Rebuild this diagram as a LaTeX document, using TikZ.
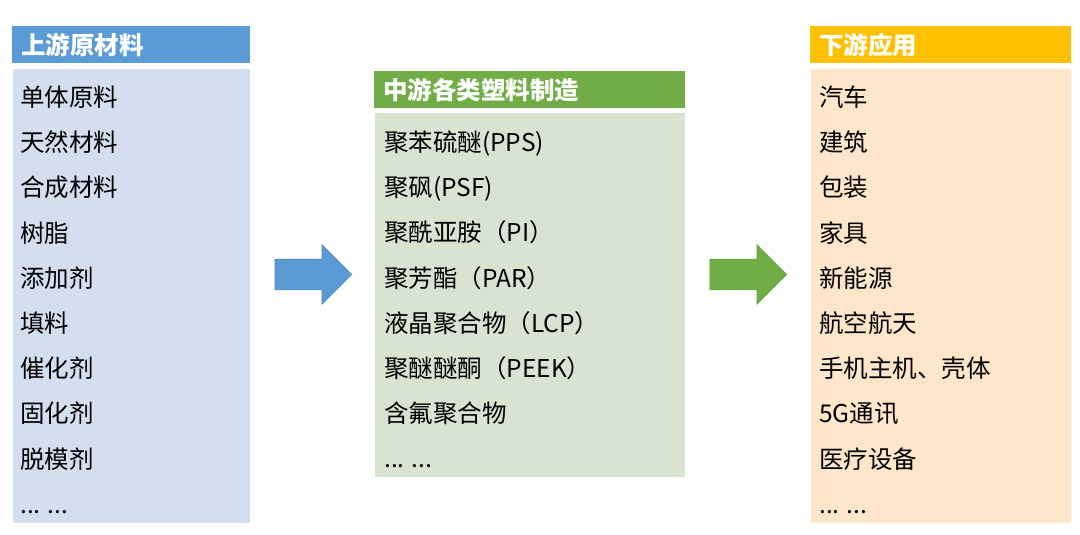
\documentclass[tikz,border=0pt]{standalone}
\usepackage{fontspec}
\setmainfont{Noto Sans CJK SC}
\usetikzlibrary{shapes.arrows}
\definecolor{upblue}{HTML}{5B9BD5}
\definecolor{upbody}{HTML}{D3DEEF}
\definecolor{midgreen}{HTML}{70AD47}
\definecolor{midbody}{HTML}{D8E4D0}
\definecolor{downgold}{HTML}{FFC000}
\definecolor{downbody}{HTML}{FEE6CB}
\begin{document}
\begin{tikzpicture}[x=1pt, y=-1pt,
    every node/.style={inner sep=0pt, font=\fontsize{24.5}{29}\selectfont},
    head/.style={anchor=north west, minimum height=37pt, text=white,
      inner xsep=9pt, align=left, font=\bfseries\fontsize{24.5}{29}\selectfont},
    body/.style={anchor=north west, draw=white, line width=0.8pt},
    item/.style={anchor=base west},
    arrow/.style={single arrow, anchor=tail, single arrow head extend=14.5pt,
      minimum height=77pt, inner ysep=15pt, inner xsep=0pt, line width=0.6pt}]
  \useasboundingbox (0,0) rectangle (1080,535);

  % upstream
  \node[head, fill=upblue, minimum width=238pt, text width=220pt] (up) at (12,26) {上游原材料};
  \node[body, fill=upbody, minimum width=238pt, minimum height=455pt] (upbox) at (12,68) {};
  \node[item] (u1) at (20,106.5) {单体原料};
  \node[item] (u2) at (20,151.7) {天然材料};
  \node[item] (u3) at (20,196.9) {合成材料};
  \node[item] (u4) at (20,242.1) {树脂};
  \node[item] (u5) at (20,287.3) {添加剂};
  \node[item] (u6) at (20,332.5) {填料};
  \node[item] (u7) at (20,377.7) {催化剂};
  \node[item] (u8) at (20,422.9) {固化剂};
  \node[item] (u9) at (20,468.1) {脱模剂};
  \node[item] (u10) at (20,513.3) {... ...};

  % midstream
  \node[head, fill=midgreen, minimum width=311pt, text width=293pt] (mid) at (374,71) {中游各类塑料制造};
  \node[body, fill=midbody, minimum width=311pt, minimum height=365pt] (midbox) at (374,112) {};
  \node[item] (m1) at (384,151.5) {聚苯硫醚(PPS)};
  \node[item] (m2) at (384,196.7) {聚砜(PSF)};
  \node[item] (m3) at (384,241.9) {聚酰亚胺（PI）};
  \node[item] (m4) at (384,287.1) {聚芳酯（PAR）};
  \node[item] (m5) at (384,332.3) {液晶聚合物（LCP）};
  \node[item] (m6) at (384,377.5) {聚醚醚酮（PEEK）};
  \node[item] (m7) at (384,422.7) {含氟聚合物};
  \node[item] (m8) at (384,467.9) {... ...};

  % downstream
  \node[head, fill=downgold, minimum width=261pt, text width=243pt] (down) at (810,26) {下游应用};
  \node[body, fill=downbody, minimum width=261pt, minimum height=455pt] (downbox) at (810,68) {};
  \node[item] (d1) at (819,106.5) {汽车};
  \node[item] (d2) at (819,151.7) {建筑};
  \node[item] (d3) at (819,196.9) {包装};
  \node[item] (d4) at (819,242.1) {家具};
  \node[item] (d5) at (819,287.3) {新能源};
  \node[item] (d6) at (819,332.5) {航空航天};
  \node[item] (d7) at (819,377.7) {手机主机、壳体};
  \node[item] (d8) at (819,422.9) {5G通讯};
  \node[item] (d9) at (819,468.1) {医疗设备};
  \node[item] (d10) at (819,513.3) {... ...};

  % arrows
  \node[arrow, fill=upblue, draw=upblue!85!black] (a1) at (274.5,274.5) {};
  \node[arrow, fill=midgreen, draw=midgreen!90!black] (a2) at (709.5,274.5) {};
\end{tikzpicture}
\end{document}
